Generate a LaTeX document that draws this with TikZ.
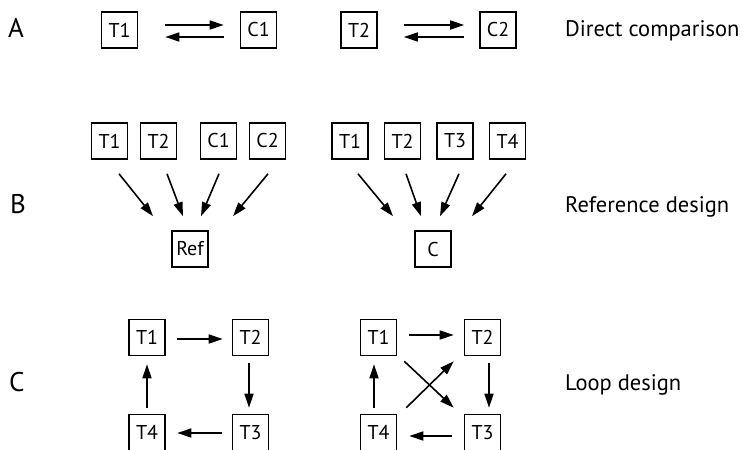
\documentclass[tikz,border=0pt]{standalone}
\usepackage{fontspec}
\setmainfont{PT Sans}
\usetikzlibrary{arrows.meta,calc}

\tikzset{
  box/.style={draw, line width=1.6pt, minimum width=36pt, minimum height=36pt,
    inner sep=0pt, font=\fontsize{20}{22}\selectfont},
  arr/.style={line width=1.6pt, -{Triangle[length=14pt,width=9pt]}},
  rowlabel/.style={anchor=base west, inner sep=0pt, font=\fontsize{27}{29}\selectfont},
  caption/.style={anchor=base west, inner sep=0pt, font=\fontsize{22.5}{25}\selectfont},
}

\begin{document}
\begin{tikzpicture}[x=1pt, y=-1pt]
\useasboundingbox (0,0) rectangle (751,449);
\clip (0,0) rectangle (751,449);

% row labels and captions
\node[rowlabel] (la) at (8,38) {A};
\node[rowlabel] (lb) at (10,213) {B};
\node[rowlabel] (lc) at (9,391) {C};
\node[caption] (ca) at (565,37) {Direct comparison};
\node[caption] (cb) at (565,212) {Reference design};
\node[caption] (cc) at (565,390) {Loop design};

% A: direct comparison
\node[box] (aT1) at (119.5,30) {T1};
\node[box] (aC1) at (258.5,30) {C1};
\node[box] (aT2) at (359,30) {T2};
\node[box] (aC2) at (498,30) {C2};
\draw[arr, shorten <=27pt, shorten >=16pt] ([yshift=5pt]aT1.east) -- ([yshift=5pt]aC1.west);
\draw[arr, shorten <=16pt, shorten >=27pt] ([yshift=-7pt]aC1.west) -- ([yshift=-7pt]aT1.east);
\draw[arr, shorten <=26pt, shorten >=15pt] ([yshift=5pt]aT2.east) -- ([yshift=5pt]aC2.west);
\draw[arr, shorten <=15pt, shorten >=26pt] ([yshift=-7pt]aC2.west) -- ([yshift=-7pt]aT2.east);

% B: reference design
\node[box] (bT1) at (109.5,141) {T1};
\node[box] (bT2) at (158.5,141) {T2};
\node[box] (bC1) at (218.5,141) {C1};
\node[box] (bC2) at (267.5,141) {C2};
\node[box] (ref) at (190,249) {Ref};
\draw[arr] ($(bT1.south)+(9.5,14)$) -- ($(ref.north)+(-37,-14)$);
\draw[arr] ($(bT2.south)+(8.5,14)$) -- ($(ref.north)+(-7,-14)$);
\draw[arr] ($(bC1.south)+(0.5,14)$) -- ($(ref.north)+(11,-14)$);
\draw[arr] ($(bC2.south)+(0.5,14)$) -- ($(ref.north)+(43,-14)$);

\node[box] (rT1) at (350,141) {T1};
\node[box] (rT2) at (402.5,141) {T2};
\node[box] (rT3) at (455,141) {T3};
\node[box] (rT4) at (507.5,141) {T4};
\node[box] (rC) at (433,249) {C};
\draw[arr] ($(rT1.south)+(8,14)$) -- ($(rC.north)+(-40,-14)$);
\draw[arr] ($(rT2.south)+(3.5,14)$) -- ($(rC.north)+(-12,-14)$);
\draw[arr] ($(rT3.south)+(4,14)$) -- ($(rC.north)+(7,-14)$);
\draw[arr] ($(rT4.south)+(-1.5,14)$) -- ($(rC.north)+(39,-14)$);

% C: loop designs
\node[box] (lT1) at (147,337.5) {T1};
\node[box] (lT2) at (250.5,337.5) {T2};
\node[box] (lT3) at (250.5,432.5) {T3};
\node[box] (lT4) at (147,432.5) {T4};
\draw[arr, shorten <=11.5pt, shorten >=9pt] ([yshift=-1.5pt]lT1.east) -- ([yshift=-1.5pt]lT2.west);
\draw[arr, shorten <=7pt, shorten >=6pt] ([xshift=-1.5pt]lT2.south) -- ([xshift=-1.5pt]lT3.north);
\draw[arr, shorten <=10pt, shorten >=11.5pt] ([yshift=-0.5pt]lT3.west) -- ([yshift=-0.5pt]lT4.east);
\draw[arr, shorten <=6pt, shorten >=8pt] (lT4.north) -- (lT1.south);

\node[box] (mT1) at (378.5,337.5) {T1};
\node[box] (mT2) at (482.5,337.5) {T2};
\node[box] (mT3) at (482.5,432.5) {T3};
\node[box] (mT4) at (378.5,432.5) {T4};
\draw[arr, shorten <=12pt, shorten >=10pt] ([yshift=2.5pt]mT1.east) -- ([yshift=2.5pt]mT2.west);
\draw[arr, shorten <=7pt, shorten >=6pt] ([xshift=6.5pt]mT2.south) -- ([xshift=6.5pt]mT3.north);
\draw[arr, shorten <=12pt, shorten >=12pt] ([yshift=-3.5pt]mT3.west) -- ([yshift=-3.5pt]mT4.east);
\draw[arr, shorten <=6pt, shorten >=8pt] ([xshift=-4.5pt]mT4.north) -- ([xshift=-4.5pt]mT1.south);
\draw[arr] ($(mT1.south east)+(7,5)$) -- ($(mT3.north west)+(-10,-6)$);
\draw[arr] ($(mT4.north east)+(9,-6)$) -- ($(mT2.south west)+(-10,5)$);
\end{tikzpicture}
\end{document}
